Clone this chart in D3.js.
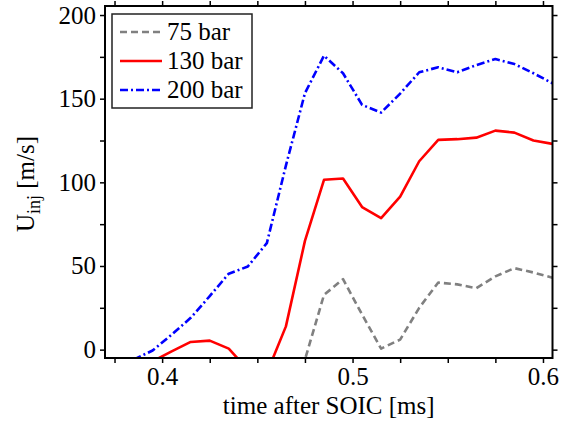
<!DOCTYPE html>
<html>
<head>
<meta charset="utf-8">
<script src="https://cdn.jsdelivr.net/npm/d3@7"></script>
<style>
  body { margin: 0; background: #fff; }
  svg { display: block; font-family: "Liberation Serif", "Times New Roman", serif; }
</style>
</head>
<body>
<svg id="chart" width="563" height="425"></svg>
<script>
// time after SOIC [ms]
const times = [0.385, 0.395, 0.405, 0.415, 0.425, 0.435, 0.445, 0.455, 0.465, 0.475, 0.485,
  0.495, 0.505, 0.515, 0.525, 0.535, 0.545, 0.555, 0.565, 0.575, 0.585, 0.595, 0.605];

// U_inj [m/s], values below the axis are cut off by the frame
const u75 = [null, null, null, null, null, null, null, null, -20, -6, 32.7,
  42.1, 21, 0.6, 6, 25, 40.1, 39, 36.7, 43.8, 48.7, 46.1, 43];
const u130 = [-10, -7, -1, 4.6, 5.4, 0.6, -12, -14, 13.9, 65, 101.5,
  102.3, 85.2, 78.6, 91.5, 112.6, 125.4, 125.8, 126.7, 130.9, 129.7, 125, 123];
const u200 = [-6, -0.5, 9, 19, 32, 45.4, 49.7, 63.7, 110, 153.3, 175.7,
  165.2, 146.3, 141.7, 153, 165.8, 168.8, 165.8, 170.1, 173.7, 170.7, 165.2, 159.2];

const seriesNames = ["75 bar", "130 bar", "200 bar"];

const xTicks = [0.375, 0.4, 0.425, 0.45, 0.475, 0.5, 0.525, 0.55, 0.575, 0.6];
const xLabels = [0.4, 0.5, 0.6];
const yTicks = [0, 25, 50, 75, 100, 125, 150, 175, 200];
const yLabels = [0, 50, 100, 150, 200];

const svg = d3.select("#chart");
const pL = 105, pR = 552.5, pT = 6, pB = 358;

const x = d3.scaleLinear().domain([0.37, 0.605]).range([pL, pR]);
const y = d3.scaleLinear().domain([-5, 205.4]).range([pB, pT]);

const styles = [
  { color: "#808080", dash: "7,4" },
  { color: "#ff0000", dash: null },
  { color: "#0000ff", dash: "8,3,2,3" },
];
const series = [u75, u130, u200];

svg.append("clipPath").attr("id", "plot")
  .append("rect")
  .attr("x", pL).attr("y", pT)
  .attr("width", pR - pL).attr("height", pB - pT);

const line = d3.line()
  .defined((d) => d[1] != null)
  .x((d) => x(d[0]))
  .y((d) => y(d[1]));

svg.append("g").attr("clip-path", "url(#plot)")
  .selectAll("path")
  .data(series)
  .join("path")
  .attr("d", (s) => line(times.map((t, i) => [t, s[i]])))
  .attr("fill", "none")
  .attr("stroke", (d, i) => styles[i].color)
  .attr("stroke-width", 2.6)
  .attr("stroke-dasharray", (d, i) => styles[i].dash)
  .attr("stroke-linejoin", "round");

// axes, ticks pointing outward on every side
function styleAxis(g) {
  g.select(".domain").remove();
  g.selectAll(".tick line").attr("stroke", "#000").attr("stroke-width", 1.5);
  g.selectAll(".tick text")
    .attr("fill", "#000")
    .style("font-size", "25px")
    .style("font-family", '"Liberation Serif", "Times New Roman", serif');
}

const fmtX = (d) => (xLabels.some((v) => Math.abs(v - d) < 1e-9) ? d3.format(".1f")(d) : "");
const fmtY = (d) => (yLabels.includes(d) ? String(d) : "");

svg.append("g")
  .attr("transform", `translate(0,${pB})`)
  .call(d3.axisBottom(x).tickValues(xTicks).tickFormat(fmtX).tickSize(5).tickPadding(4))
  .call(styleAxis);

svg.append("g")
  .attr("transform", `translate(0,${pT})`)
  .call(d3.axisTop(x).tickValues(xTicks).tickFormat("").tickSize(5))
  .call(styleAxis);

svg.append("g")
  .attr("transform", `translate(${pL},0)`)
  .call(d3.axisLeft(y).tickValues(yTicks).tickFormat(fmtY).tickSize(5).tickPadding(4))
  .call(styleAxis);

svg.append("g")
  .attr("transform", `translate(${pR},0)`)
  .call(d3.axisRight(y).tickValues(yTicks).tickFormat("").tickSize(5))
  .call(styleAxis);

svg.append("rect")
  .attr("x", pL).attr("y", pT)
  .attr("width", pR - pL).attr("height", pB - pT)
  .attr("fill", "none")
  .attr("stroke", "#000")
  .attr("stroke-width", 2);

// axis titles
svg.append("text")
  .attr("x", (pL + pR) / 2)
  .attr("y", 414)
  .attr("text-anchor", "middle")
  .style("font-size", "25px")
  .text("time after SOIC [ms]");

const yt = svg.append("text")
  .attr("transform", "translate(34,184) rotate(-90)")
  .attr("text-anchor", "middle")
  .style("font-size", "25px");
yt.append("tspan").text("U");
yt.append("tspan").attr("dy", 6).style("font-size", "18px").text("inj");
yt.append("tspan").attr("dy", -6).text(" [m/s]");

// legend
const legend = svg.append("g");
legend.append("rect")
  .attr("x", 112).attr("y", 14)
  .attr("width", 140).attr("height", 94)
  .attr("fill", "#fff")
  .attr("stroke", "#222")
  .attr("stroke-width", 1.5);

const rows = legend.selectAll("g.row")
  .data(seriesNames)
  .join("g")
  .attr("class", "row")
  .attr("transform", (d, i) => `translate(0,${32 + i * 29})`);

rows.append("line")
  .attr("x1", 120).attr("x2", 162)
  .attr("stroke", (d, i) => styles[i].color)
  .attr("stroke-width", 2.6)
  .attr("stroke-dasharray", (d, i) => styles[i].dash);

rows.append("text")
  .attr("x", 167).attr("y", 8)
  .style("font-size", "25px")
  .text((d) => d);
</script>
</body>
</html>
